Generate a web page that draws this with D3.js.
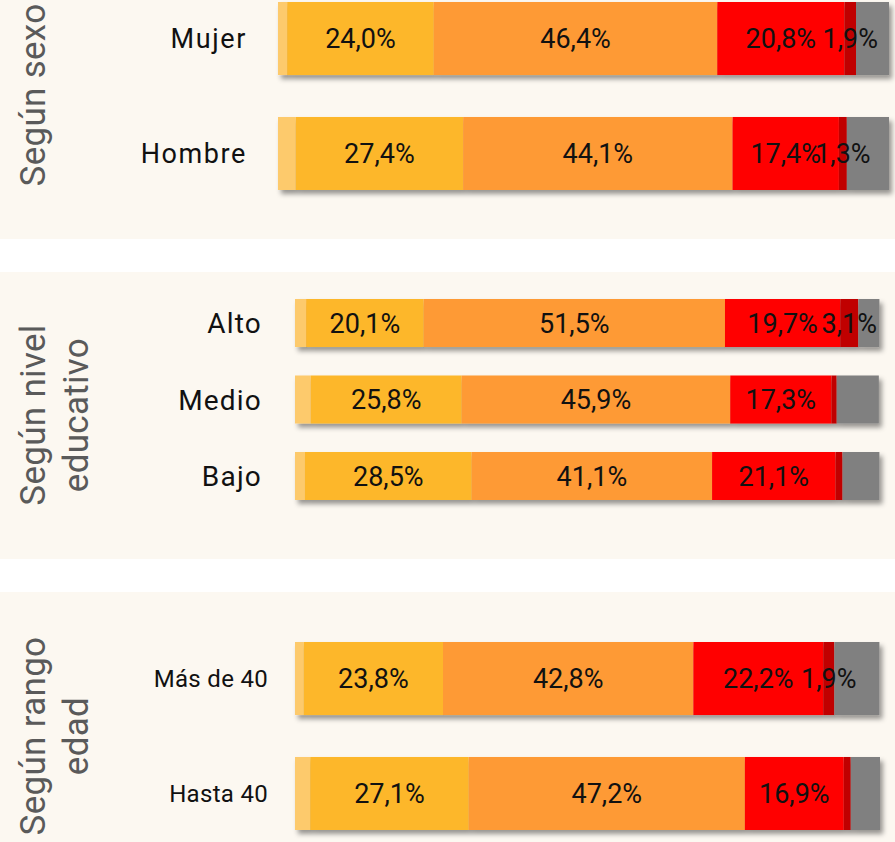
<!DOCTYPE html>
<html>
<head>
<meta charset="utf-8">
<script src="https://cdn.jsdelivr.net/npm/d3@7"></script>
<style>
  body { margin: 0; background: #fff; }
  text { font-family: Roboto, "DejaVu Sans", sans-serif; font-weight: 400; }
</style>
</head>
<body>
<svg width="895" height="842"></svg>
<script>
const svg = d3.select("svg");

// Data
const categories = ["Mujer", "Hombre", "Alto", "Medio", "Bajo", "Más de 40", "Hasta 40"];
const groupOf    = [0, 0, 1, 1, 1, 2, 2];
const groupTitles = [["Según sexo"], ["Según nivel", "educativo"], ["Según rango", "edad"]];

const serieA = [1.5, 2.9, 1.9, 2.7, 1.7, 1.5, 2.6];
const serieB = [24.0, 27.4, 20.1, 25.8, 28.5, 23.8, 27.1];
const serieC = [46.4, 44.1, 51.5, 45.9, 41.1, 42.8, 47.2];
const serieD = [20.8, 17.4, 19.7, 17.3, 21.1, 22.2, 16.9];
const serieE = [1.9, 1.3, 3.1, 0.9, 1.2, 1.9, 1.2];
const serieF = [5.4, 6.9, 3.6, 7.2, 6.3, 7.7, 5.0];

const series = [serieA, serieB, serieC, serieD, serieE, serieF];
const colors = ["#fdca6c", "#fdb72c", "#fe9a35", "#ff0000", "#c00000", "#808080"];
// which series get a value label (dark red only when big enough)
const showLabel = (s, v) => (s >= 1 && s <= 3) || (s === 4 && v >= 1.25);

// panel layout
const panels = [
  { y0: 0,   y1: 239, x0: 278, x1: 889, yr: [2, 190],   labelX: 247, labelSize: 27, spacing: 1.6, titleY: 95 },
  { y0: 272, y1: 559, x0: 295, x1: 880, yr: [299, 500], labelX: 262, labelSize: 28, spacing: 1.2, titleY: 415 },
  { y0: 592, y1: 842, x0: 295, x1: 880, yr: [642, 830], labelX: 268, labelSize: 24, spacing: 0.3, titleY: 736 }
];

const defs = svg.append("defs");
const shadow = defs.append("filter").attr("id", "shadow")
  .attr("x", "-5%").attr("y", "-20%").attr("width", "115%").attr("height", "150%");
shadow.append("feDropShadow")
  .attr("dx", 3).attr("dy", 4)
  .attr("stdDeviation", 2.5)
  .attr("flood-color", "#000")
  .attr("flood-opacity", 0.4);

const fmt = v => v.toFixed(1).replace(".", ",") + "%";

panels.forEach((p, gi) => {
  svg.append("rect")
    .attr("x", 0).attr("y", p.y0)
    .attr("width", 895).attr("height", p.y1 - p.y0)
    .attr("fill", "#fcf8f1");

  const idx = categories.map((c, i) => i).filter(i => groupOf[i] === gi);
  const cats = idx.map(i => categories[i]);

  const pad = gi === 1 ? 0.3725 : 0.365;
  const y = d3.scaleBand().domain(cats).range(p.yr).paddingInner(pad).paddingOuter(0);
  const x = d3.scaleLinear().domain([0, 100]).range([p.x0, p.x1]);

  // group title (rotated)
  groupTitles[gi].forEach((t, li) => {
    svg.append("text")
      .attr("transform", `translate(${45 + li * 43},${p.titleY}) rotate(-90)`)
      .attr("text-anchor", "middle")
      .attr("font-size", 35)
      .attr("letter-spacing", 0.3)
      .attr("fill", "#5a5a5a")
      .text(t);
  });

  idx.forEach(i => {
    const cat = categories[i];
    let acc = 0;
    const segs = series.map((s, si) => {
      const d = { s: si, v: s[i], start: acc };
      acc += s[i];
      return d;
    });

    const bar = svg.append("g").attr("filter", "url(#shadow)");
    bar.selectAll("rect")
      .data(segs)
      .join("rect")
      .attr("x", d => x(d.start))
      .attr("y", y(cat))
      .attr("width", d => x(d.start + d.v) - x(d.start))
      .attr("height", y.bandwidth())
      .attr("fill", d => colors[d.s]);

    svg.append("g").selectAll("text")
      .data(segs.filter(d => showLabel(d.s, d.v)))
      .join("text")
      .attr("x", d => (x(d.start) + x(d.start + d.v)) / 2)
      .attr("y", y(cat) + y.bandwidth() / 2)
      .attr("dy", "0.36em")
      .attr("text-anchor", "middle")
      .attr("font-size", 27)
      .attr("fill", "#111")
      .text(d => fmt(d.v));

    svg.append("text")
      .attr("x", p.labelX)
      .attr("y", y(cat) + y.bandwidth() / 2)
      .attr("dy", "0.36em")
      .attr("text-anchor", "end")
      .attr("font-size", p.labelSize)
      .attr("letter-spacing", p.spacing)
      .attr("fill", "#111")
      .text(cat);
  });
});
</script>
</body>
</html>
